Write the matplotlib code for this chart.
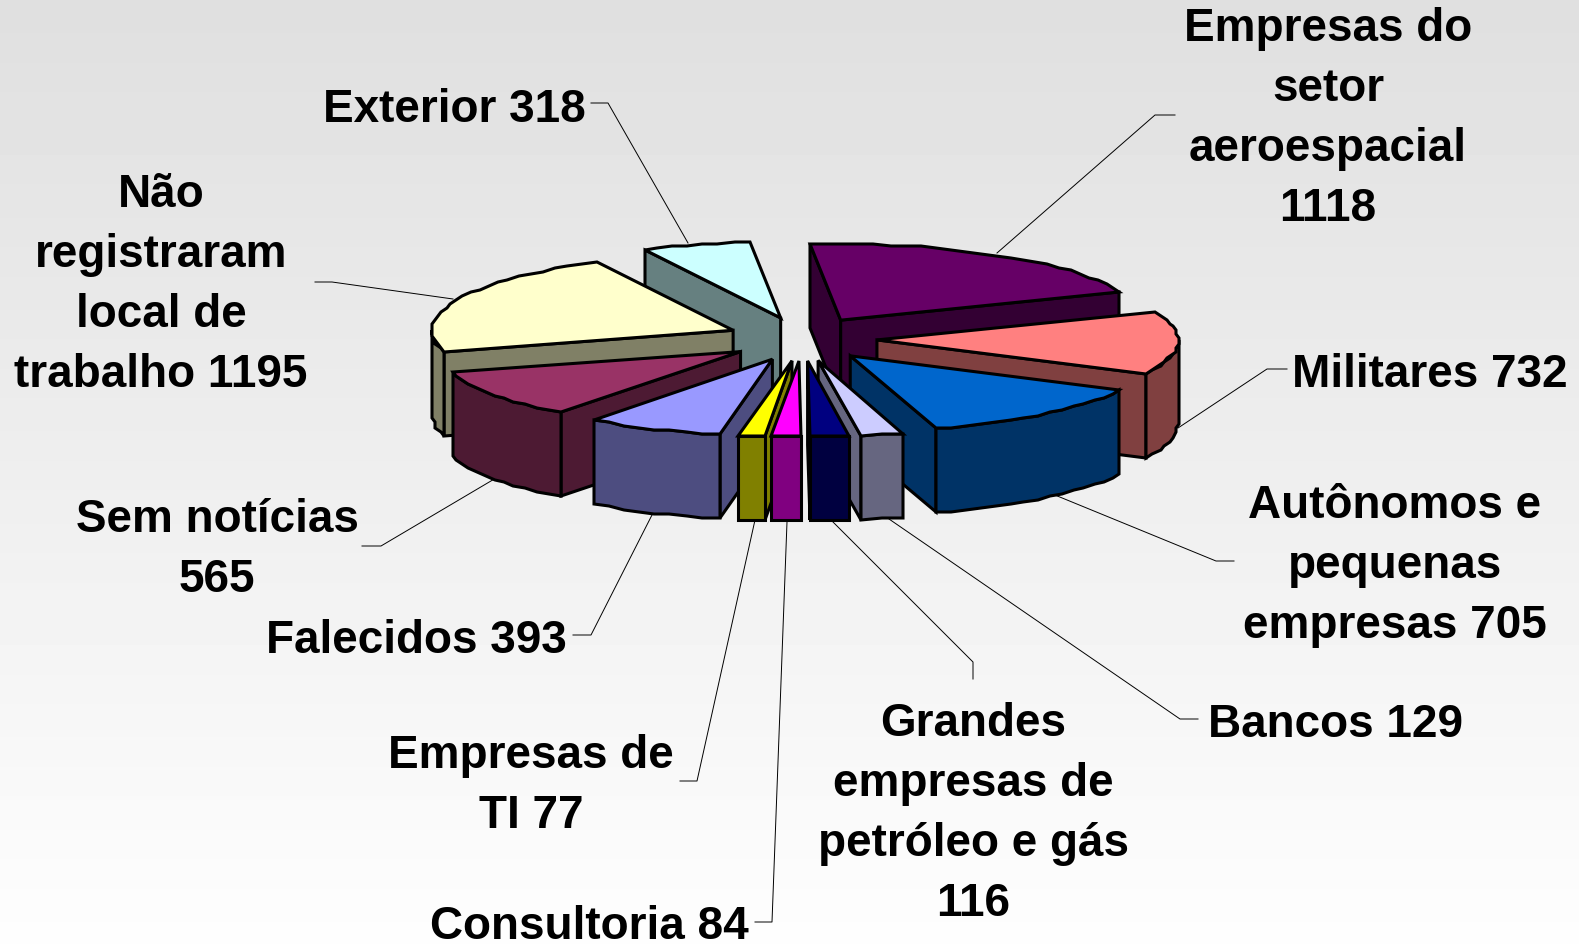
import numpy as np
import matplotlib
matplotlib.use("Agg")
import matplotlib.pyplot as plt
from matplotlib.colors import to_rgb
from matplotlib.patches import Polygon

# clockwise from the top, as in the chart
values = [1118, 732, 705, 129, 116, 84, 77, 393, 565, 1195, 318]
labels = [
    "Empresas do\nsetor\naeroespacial\n{}",
    "Militares {}",
    "Autônomos e\npequenas\nempresas {}",
    "Bancos {}",
    "Grandes\nempresas de\npetróleo e gás\n{}",
    "Consultoria {}",
    "Empresas de\nTI {}",
    "Falecidos {}",
    "Sem notícias\n{}",
    "Não\nregistraram\nlocal de\ntrabalho {}",
    "Exterior {}",
]
colors = ["#660066", "#FF8080", "#0066CC", "#CCCCFF", "#000080", "#FF00FF",
          "#FFFF00", "#9999FF", "#993366", "#FFFFCC", "#CCFFFF"]

# label centres and leader lines, in pixels of the picture
label_pos = [(1328, 119), (1430, 375), (1395, 566), (1335, 725), (973, 814), (589, 927),
             (531, 786), (416, 641), (217, 550), (161, 285), (454, 110)]
leaders = [
    [(1175, 115), (1155, 115), (997, 253)],
    [(1287, 369), (1267, 369), (1178, 428)],
    [(1234, 561), (1216, 561), (1050, 493)],
    [(1198, 719), (1180, 719), (889, 519)],
    [(973, 679), (973, 662), (833, 522)],
    [(755, 922), (772, 922), (787, 522)],
    [(680, 781), (697, 781), (755, 520)],
    [(573, 635), (591, 635), (653, 513)],
    [(362, 546), (381, 546), (496, 478)],
    [(315, 282), (332, 282), (453, 299)],
    [(591, 103), (608, 103), (688, 243)],
]

cx, cy = 802, 339
R, Ry = 301, 76      # pie radius on screen
ex, ey = 75, 22      # explosion
depth = 84
rot = -6             # first slice angle

edge = dict(edgecolor="black", linewidth=2.2, joinstyle="miter")


def rim(apex, a):
    a = np.radians(a)
    x = apex[0] + R * np.sin(a)
    y = apex[1] - Ry * np.cos(a)
    # the original outline is stepped, coarse integer coordinates
    return np.round(x / 3) * 3, np.round(y / 2) * 2


def arc(apex, a0, a1):
    n = max(int((a1 - a0) / 3), 1)
    xs, ys = rim(apex, np.linspace(a0, a1, n + 1))
    return np.column_stack([xs, ys])


def wall_visible(apex, p, mid):
    d = np.subtract(p, apex)
    m = np.subtract(mid, apex)
    body = d[0] * m[1] - d[1] * m[0]
    down = d[0]
    return body * down < 0


fig = plt.figure(figsize=(15.79, 9.44), dpi=100)
ax = fig.add_axes([0, 0, 1, 1])
ax.set_xlim(0, 1579)
ax.set_ylim(944, 0)
ax.axis("off")

grad = np.linspace(0.875, 0.995, 256).reshape(-1, 1)
ax.imshow(grad, cmap="gray", vmin=0, vmax=1, extent=(0, 1579, 944, 0), aspect="auto", zorder=0)

for pts in leaders:
    pts = np.array(pts)
    ax.plot(pts[:, 0], pts[:, 1], color="black", lw=0.7, zorder=1)

ends = np.cumsum(values) / np.sum(values) * 360
starts = np.r_[0, ends[:-1]]
mids = (starts + ends) / 2 + rot

slices = []
for i, v in enumerate(values):
    a = np.radians(mids[i])
    apex = (cx + ex * np.sin(a), cy - ey * np.cos(a))
    slices.append((apex[1], i, apex))

z = 2
for _, i, apex in sorted(slices):
    a0, a1 = starts[i] + rot, ends[i] + rot
    top = arc(apex, a0, a1)
    face = np.vstack([[apex], top])
    dark = tuple(c * 0.5 for c in to_rgb(colors[i]))
    mid = rim(apex, (a0 + a1) / 2)

    # side walls of the cut
    for p in (top[0], top[-1]):
        if wall_visible(apex, p, mid):
            quad = [apex, p, (p[0], p[1] + depth), (apex[0], apex[1] + depth)]
            ax.add_patch(Polygon(quad, facecolor=dark, zorder=z, **edge))
            z += 1

    # outer wall, only the front half of the rim shows
    w0, w1 = max(a0, 90), min(a1, 270)
    if w1 > w0:
        front = arc(apex, w0, w1)
        low = front[::-1] + [0, depth]
        ax.add_patch(Polygon(np.vstack([front, low]), facecolor=dark, zorder=z, **edge))
        z += 1

    ax.add_patch(Polygon(face, facecolor=colors[i], zorder=z, **edge))
    z += 1

for i, v in enumerate(values):
    ax.text(label_pos[i][0], label_pos[i][1], labels[i].format(v), ha="center", va="center",
            family="Liberation Sans", weight="bold", fontsize=33, linespacing=1.47, color="black", zorder=50)

fig.savefig("out.png", dpi=100)
